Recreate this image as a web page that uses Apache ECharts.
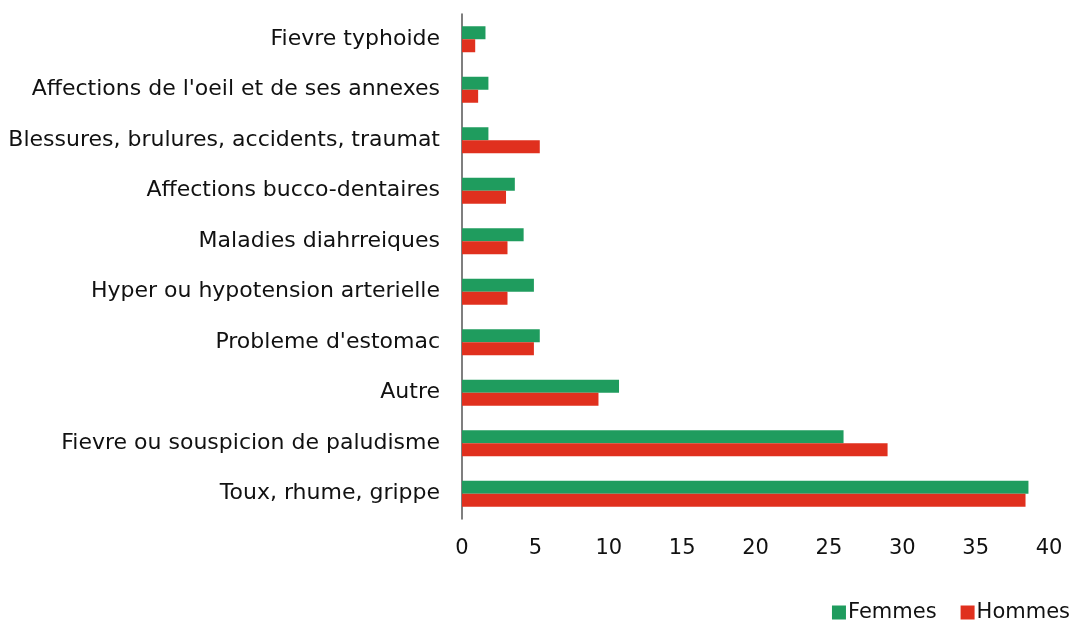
<!DOCTYPE html>
<html>
<head>
<meta charset="utf-8">
<script src="https://cdn.jsdelivr.net/npm/echarts@6/dist/echarts.min.js"></script>
<style>
  html, body { margin: 0; padding: 0; background: #fff; }
  #chart { width: 1077px; height: 622px; }
</style>
</head>
<body>
<div id="chart"></div>
<script>
// categories, bottom to top
const categories = [
  'Toux, rhume, grippe',
  'Fievre ou souspicion de paludisme',
  'Autre',
  "Probleme d'estomac",
  'Hyper ou hypotension arterielle',
  'Maladies diahrreiques',
  'Affections bucco-dentaires',
  'Blessures, brulures, accidents, traumat',
  "Affections de l'oeil et de ses annexes",
  'Fievre typhoide'
];
const femmes = [38.6, 26.0, 10.7, 5.3, 4.9, 4.2, 3.6, 1.8, 1.8, 1.6];
const hommes = [38.4, 29.0, 9.3, 4.9, 3.1, 3.1, 3.0, 5.3, 1.1, 0.9];

const font = '"DejaVu Sans", sans-serif';
const chart = echarts.init(document.getElementById('chart'));

chart.setOption({
  animation: false,
  textStyle: { fontFamily: font },
  legend: {
    data: ['Femmes', 'Hommes'],
    right: 2,
    top: 597,
    icon: 'rect',
    itemWidth: 14,
    itemHeight: 14,
    itemGap: 24,
    textStyle: { fontSize: 21, color: '#111', fontFamily: font, padding: [0, 0, 0, -3] }
  },
  grid: { left: 462, right: 28, top: 14, bottom: 103 },
  xAxis: {
    type: 'value',
    min: 0,
    max: 40,
    interval: 5,
    axisLine: { show: false },
    axisTick: { show: false },
    splitLine: { show: false },
    axisLabel: { fontSize: 21, color: '#111', margin: 19, fontFamily: font }
  },
  yAxis: {
    type: 'category',
    data: categories,
    axisLine: { show: true, lineStyle: { color: '#555', width: 1.5 } },
    axisTick: { show: false },
    axisLabel: { fontSize: 22, color: '#111', margin: 22, fontFamily: font }
  },
  series: [
    {
      name: 'Femmes',
      type: 'bar',
      data: femmes,
      barWidth: 13,
      barGap: '0%',
      itemStyle: { color: '#1f9c5e' }
    },
    {
      name: 'Hommes',
      type: 'bar',
      data: hommes,
      barWidth: 13,
      barGap: '0%',
      itemStyle: { color: '#e0301e' }
    }
  ]
});
</script>
</body>
</html>
